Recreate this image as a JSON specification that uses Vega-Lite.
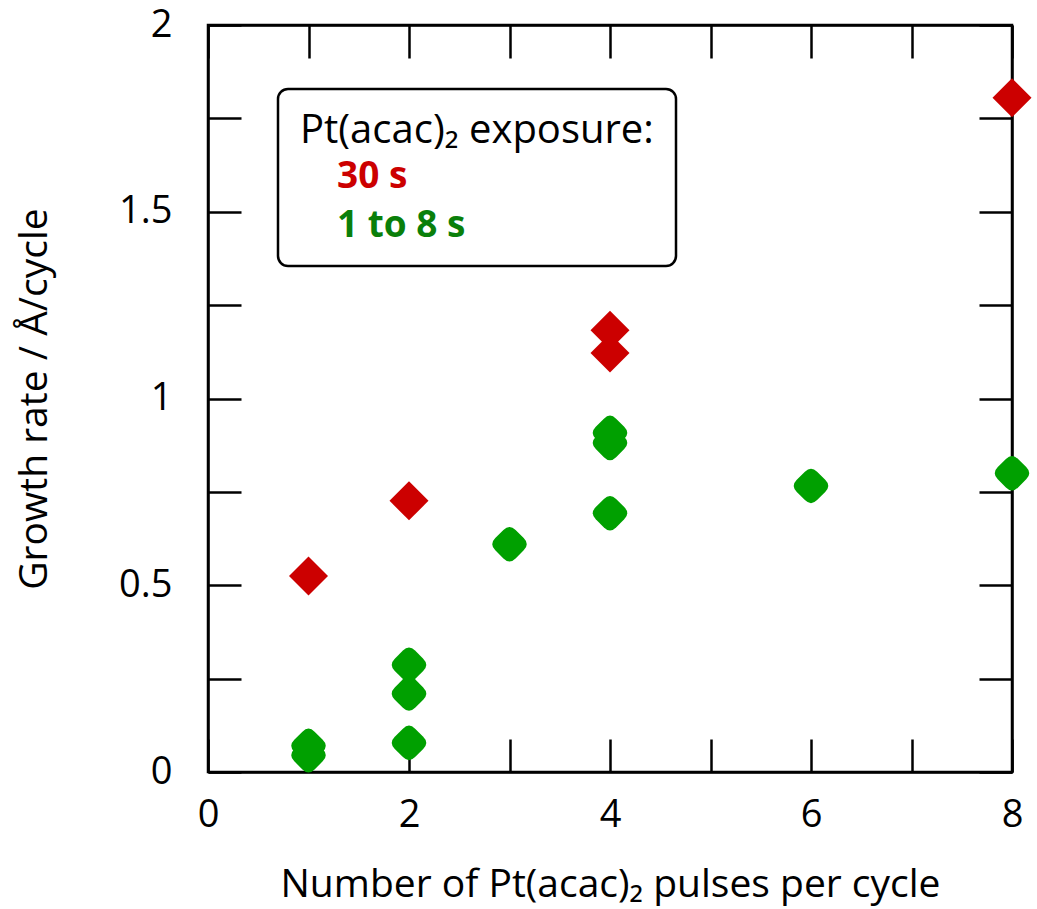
{
  "$schema": "https://vega.github.io/schema/vega-lite/v6.json",
  "width": 804,
  "height": 747,
  "autosize": {"type": "none"},
  "padding": {"left": 208, "top": 25, "right": 25, "bottom": 137},
  "background": "white",
  "config": {
    "view": {"stroke": "black", "strokeWidth": 2.5},
    "font": "Open Sans",
    "axis": {
      "grid": false,
      "domainColor": "black",
      "domainWidth": 2.5,
      "tickColor": "black",
      "tickWidth": 2.5,
      "tickSize": -33,
      "labelFont": "Open Sans",
      "labelFontSize": 38,
      "labelColor": "black",
      "labelFlush": false,
      "titleFont": "Open Sans",
      "titleFontSize": 39,
      "titleFontWeight": "normal",
      "titleColor": "black"
    }
  },
  "data": {
    "values": [
      {"pulses": 1, "rate": 0.525, "exp": "30 s"},
      {"pulses": 2, "rate": 0.726, "exp": "30 s"},
      {"pulses": 4, "rate": 1.183, "exp": "30 s"},
      {"pulses": 4, "rate": 1.122, "exp": "30 s"},
      {"pulses": 8, "rate": 1.805, "exp": "30 s"},
      {"pulses": 1, "rate": 0.07, "exp": "1 to 8 s"},
      {"pulses": 1, "rate": 0.045, "exp": "1 to 8 s"},
      {"pulses": 2, "rate": 0.078, "exp": "1 to 8 s"},
      {"pulses": 2, "rate": 0.21, "exp": "1 to 8 s"},
      {"pulses": 2, "rate": 0.287, "exp": "1 to 8 s"},
      {"pulses": 3, "rate": 0.61, "exp": "1 to 8 s"},
      {"pulses": 4, "rate": 0.693, "exp": "1 to 8 s"},
      {"pulses": 4, "rate": 0.881, "exp": "1 to 8 s"},
      {"pulses": 4, "rate": 0.908, "exp": "1 to 8 s"},
      {"pulses": 6, "rate": 0.766, "exp": "1 to 8 s"},
      {"pulses": 8, "rate": 0.80, "exp": "1 to 8 s"}
    ]
  },
  "layer": [
    {
      "mark": {"type": "point", "filled": true, "opacity": 1, "strokeWidth": 0, "clip": false},
      "encoding": {
        "x": {
          "field": "pulses", "type": "quantitative",
          "scale": {"domain": [0, 8], "nice": false},
          "axis": {
            "orient": "bottom",
            "values": [0, 1, 2, 3, 4, 5, 6, 7, 8],
            "labelExpr": "datum.value % 2 == 0 ? datum.label : ''",
            "labelPadding": 57,
            "title": "Number of Pt(acac)₂ pulses per cycle",
            "titlePadding": 31
          }
        },
        "y": {
          "field": "rate", "type": "quantitative",
          "scale": {"domain": [0, 2], "nice": false},
          "axis": {
            "orient": "left",
            "values": [0, 0.25, 0.5, 0.75, 1, 1.25, 1.5, 1.75, 2],
            "format": "~g",
            "labelExpr": "datum.value * 4 % 2 == 0 ? datum.label : ''",
            "labelPadding": 69,
            "title": "Growth rate  / Å/cycle",
            "titlePadding": 64
          }
        },
        "color": {
          "field": "exp", "type": "nominal",
          "scale": {"domain": ["30 s", "1 to 8 s"], "range": ["#CC0000", "#00A000"]},
          "legend": {
            "orient": "none",
            "legendX": 70,
            "legendY": 64,
            "title": "Pt(acac)₂ exposure:",
            "titleFontSize": 40,
            "titleFontWeight": "normal",
            "titleColor": "black",
            "titleFont": "Open Sans",
            "titleLimit": 600,
            "titlePadding": 7,
            "labelFontSize": 37,
            "labelFontWeight": "bold",
            "labelFont": "Open Sans",
            "labelLimit": 400,
            "labelOffset": 0,
            "symbolOpacity": 0,
            "symbolSize": 100,
            "symbolStrokeWidth": 0,
            "rowPadding": 11,
            "padding": 22,
            "strokeColor": "black",
            "fillColor": "white",
            "cornerRadius": 10,
            "encode": {
              "legend": {"update": {"strokeWidth": {"value": 2.5}}},
              "labels": {"update": {"fill": {"signal": "datum.label == '30 s' ? '#CC0000' : '#0A7F0A'"}}}
            }
          }
        },
        "shape": {
          "condition": {"test": "datum.exp == '30 s'", "value": "diamond"},
          "value": "M -0.3 -0.7 Q 0 -1 0.3 -0.7 L 0.7 -0.3 Q 1 0 0.7 0.3 L 0.3 0.7 Q 0 1 -0.3 0.7 L -0.7 0.3 Q -1 0 -0.7 -0.3 Z"
        },
        "size": {"condition": {"test": "datum.exp == '30 s'", "value": 1520}, "value": 1650}
      }
    },
    {
      "mark": {"type": "point", "opacity": 0},
      "encoding": {
        "x": {
          "field": "pulses", "type": "quantitative",
          "scale": {"domain": [0, 8], "nice": false},
          "axis": {"orient": "top", "values": [0, 1, 2, 3, 4, 5, 6, 7, 8], "labels": false, "title": null}
        },
        "y": {
          "field": "rate", "type": "quantitative",
          "scale": {"domain": [0, 2], "nice": false},
          "axis": {"orient": "right", "values": [0, 0.25, 0.5, 0.75, 1, 1.25, 1.5, 1.75, 2], "labels": false, "title": null}
        }
      }
    }
  ],
  "resolve": {"axis": {"x": "independent", "y": "independent"}}
}
